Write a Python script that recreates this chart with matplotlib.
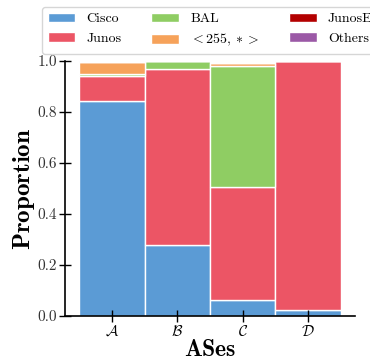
import matplotlib
matplotlib.use("Agg")
import matplotlib.pyplot as plt
import numpy as np

plt.rcParams['font.family'] = 'serif'
plt.rcParams['font.serif'] = ['cmr10']
plt.rcParams['mathtext.fontset'] = 'cm'
plt.rcParams['axes.formatter.use_mathtext'] = True

categories = [r'$\mathcal{A}$', r'$\mathcal{B}$', r'$\mathcal{C}$', r'$\mathcal{D}$']
series_names = ['Cisco', 'Junos', 'BAL', r'$<255,*>$', 'JunosE', 'Others']
cisco = [0.845, 0.278, 0.063, 0.024]
junos = [0.097, 0.692, 0.443, 0.976]
bal = [0.006, 0.030, 0.473, 0.0]
other255 = [0.050, 0.0, 0.015, 0.0]
junose = [0.0, 0.0, 0.0, 0.0]
others = [0.002, 0.0, 0.0, 0.0]
colors = ['#5b9bd5', '#ec5565', '#8fcd63', '#f6a25a', '#b30000', '#9b59a6']

series = [cisco, junos, bal, other255, junose, others]

fig = plt.figure(figsize=(3.7, 3.58), dpi=100)
ax = fig.add_axes([65/370, 1-316/358, (355-65)/370, (316-61)/358])
x = np.arange(len(categories))
bottom = np.zeros(len(categories))
for name, vals, c in zip(series_names, series, colors):
    v = np.array(vals)
    ax.bar(x, v, width=1.0, bottom=bottom, color=c, edgecolor='white', linewidth=1.0, label=name)
    bottom += v

ax.set_xlim(-0.72, 3.72)
ax.set_ylim(0, 1.0)
ax.set_xticks(x)
ax.set_xticklabels(categories, fontsize=11)
ax.set_yticks([0, 0.2, 0.4, 0.6, 0.8, 1.0])
ax.set_yticklabels(['0.0', '0.2', '0.4', '0.6', '0.8', '1.0'], fontsize=11, color='#333333')
ax.tick_params(direction='inout', length=9, width=1, color='black')
ax.tick_params(axis='x', pad=1)
ax.tick_params(axis='y', pad=1)
for s in ['top', 'right']:
    ax.spines[s].set_visible(False)
for s in ['left', 'bottom']:
    ax.spines[s].set_linewidth(1.2)
    ax.spines[s].set_zorder(5)
ax.set_xlabel(r'$\mathbf{ASes}$', fontsize=17, labelpad=0)
ax.set_ylabel(r'$\mathbf{Proportion}$', fontsize=18)
ax.yaxis.set_label_coords(-0.097, 0.5)

fig.legend(loc='upper left', bbox_to_anchor=(42/370, 1-7/358), ncol=3, fontsize=10,
           frameon=True, fancybox=True, edgecolor='#cccccc', handlelength=2.0,
           columnspacing=2.15, borderaxespad=0)

fig.savefig('out.png', dpi=100)
